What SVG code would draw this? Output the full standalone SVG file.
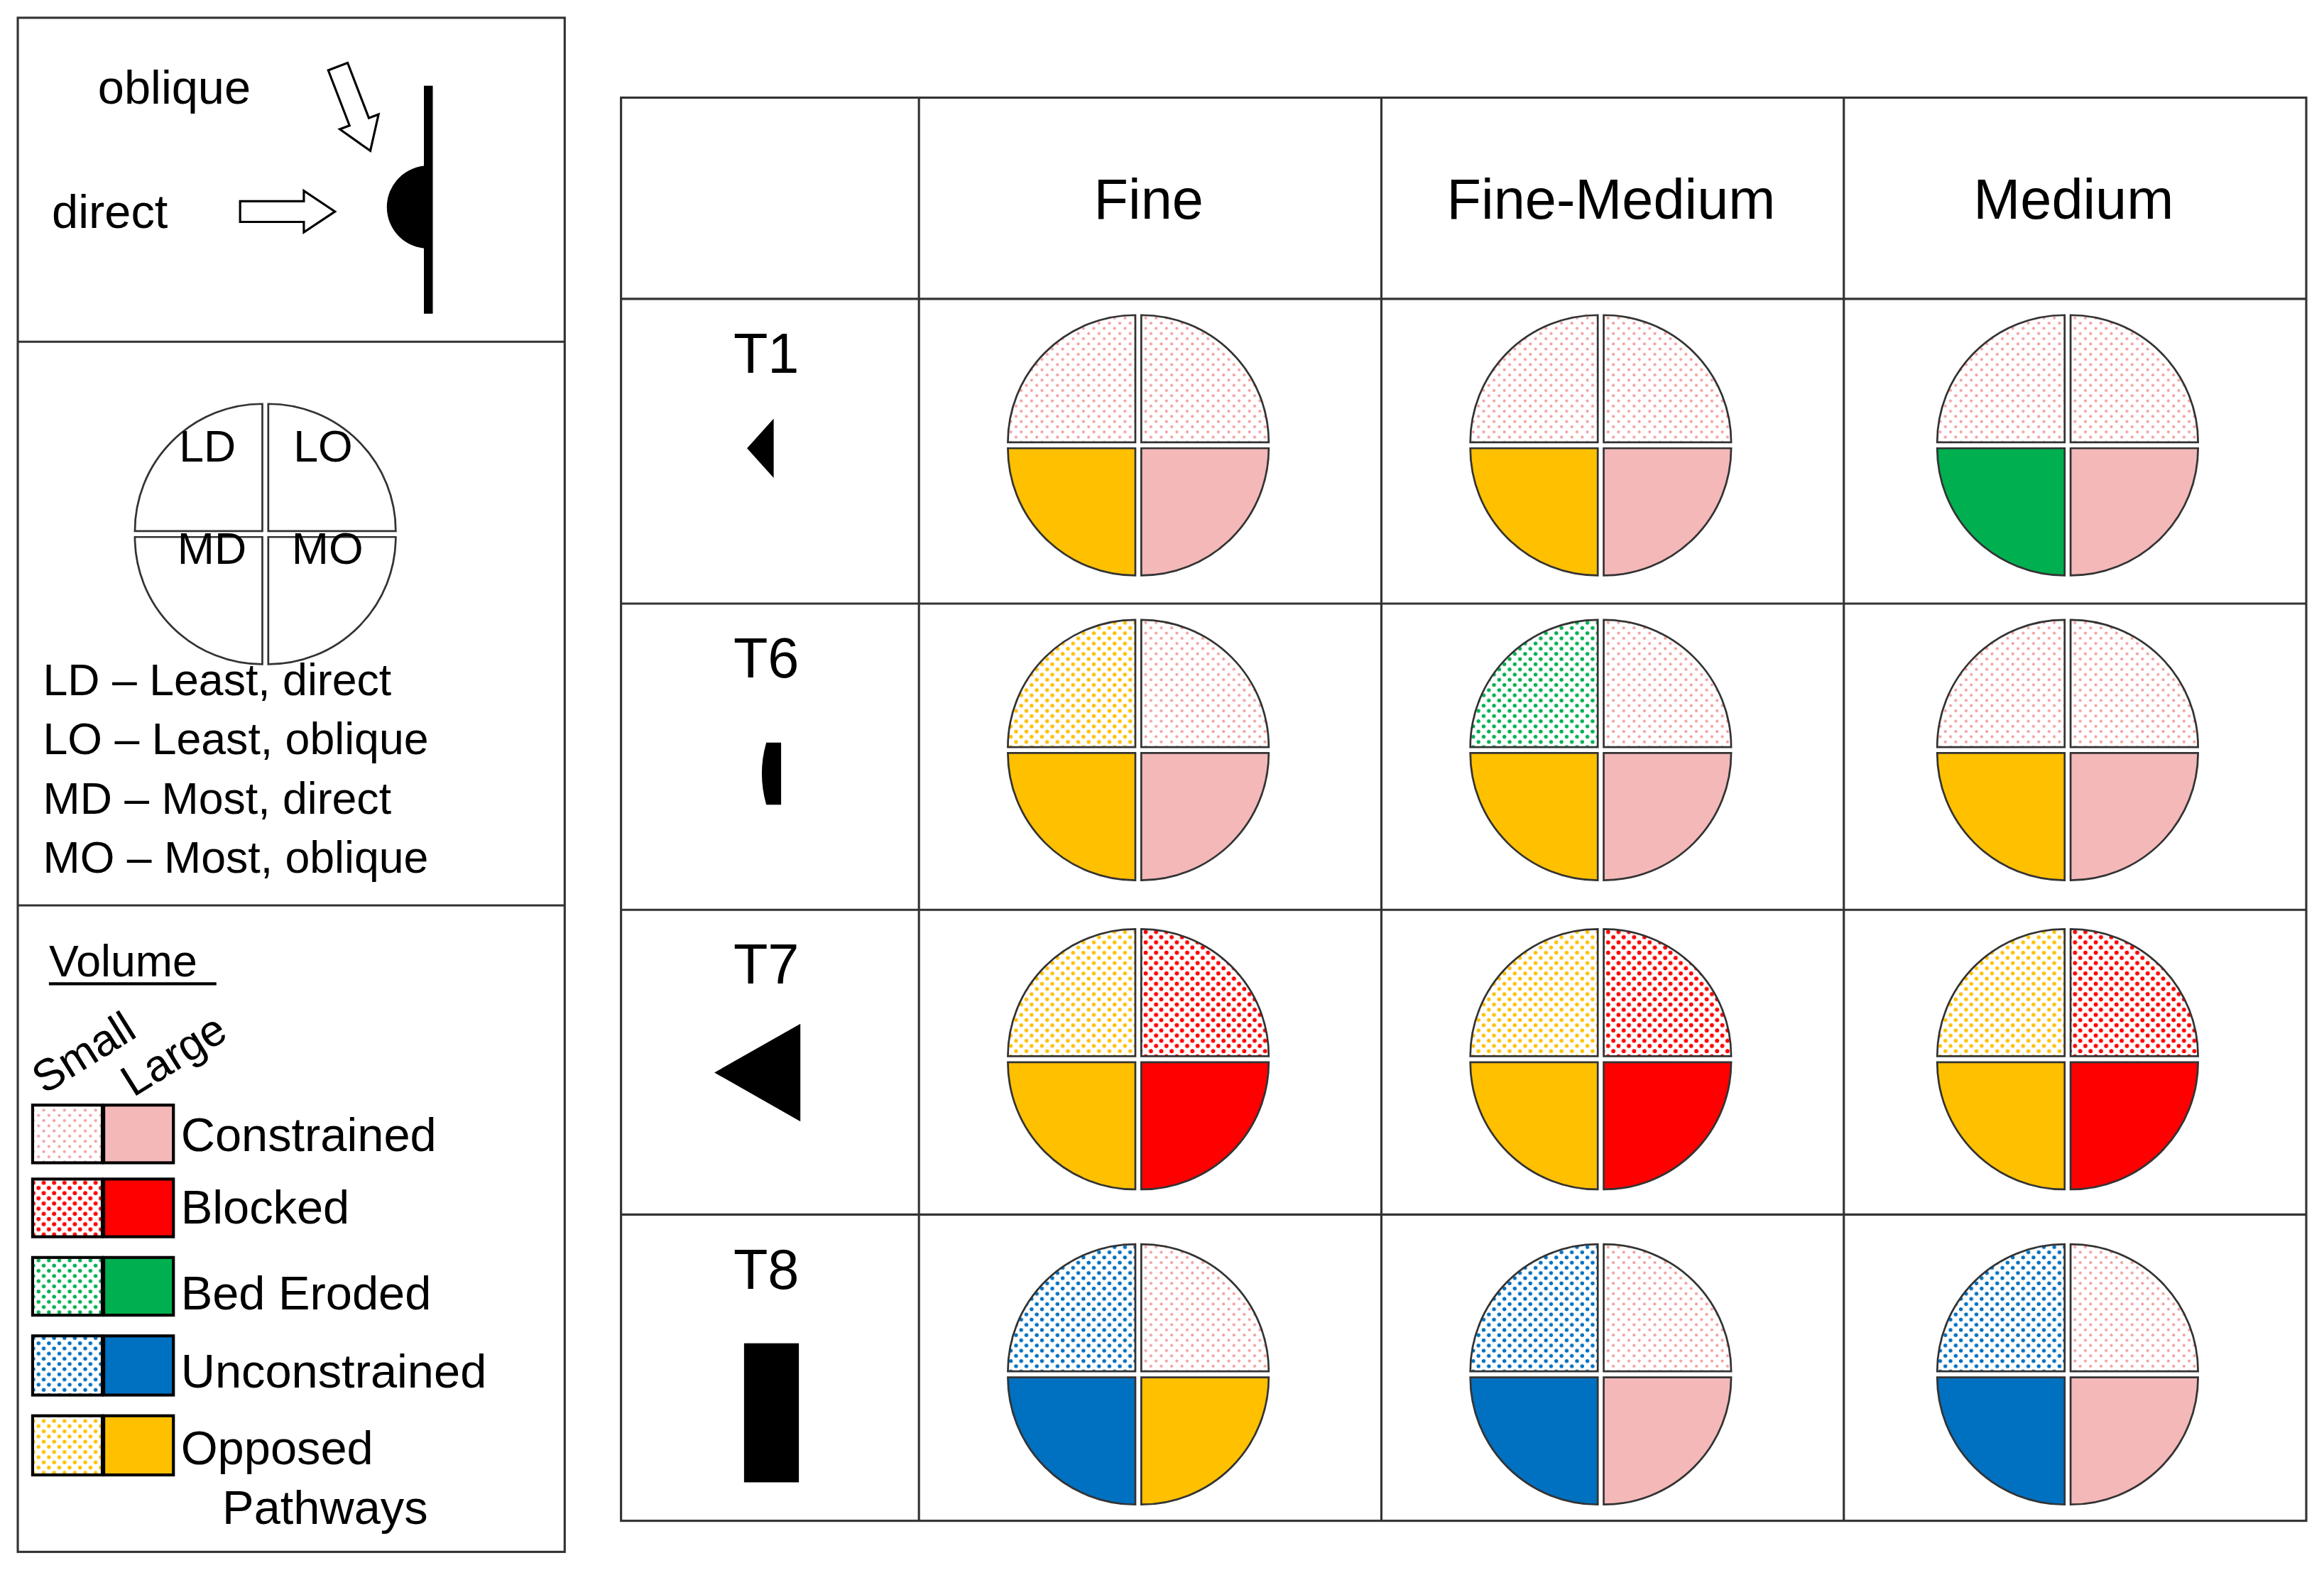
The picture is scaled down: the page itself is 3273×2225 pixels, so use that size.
<svg xmlns="http://www.w3.org/2000/svg" xmlns:xlink="http://www.w3.org/1999/xlink" width="3273" height="2225" viewBox="0 0 3273 2225">
<style>
text{font-family:"Liberation Sans",Arial,sans-serif;fill:#000}
.q{stroke:#333;stroke-width:1.3}
.ln{stroke:#333;stroke-width:1.5;fill:none}
</style>
<defs>
<pattern id="pc" width="7" height="7" patternUnits="userSpaceOnUse"><rect width="7" height="7" fill="#fff"/><circle cx="1.5" cy="1.5" r="1" fill="#f4a0a0"/><circle cx="5" cy="5" r="1" fill="#f4a0a0"/></pattern>
<pattern id="pr" width="7" height="7" patternUnits="userSpaceOnUse"><rect width="7" height="7" fill="#fff"/><circle cx="1.5" cy="1.5" r="1.4" fill="#f00"/><circle cx="5" cy="5" r="1.4" fill="#f00"/></pattern>
<pattern id="pg" width="7" height="7" patternUnits="userSpaceOnUse"><rect width="7" height="7" fill="#fff"/><circle cx="1.5" cy="1.5" r="1.3" fill="#00b050"/><circle cx="5" cy="5" r="1.3" fill="#00b050"/></pattern>
<pattern id="pb" width="7" height="7" patternUnits="userSpaceOnUse"><rect width="7" height="7" fill="#fff"/><circle cx="1.5" cy="1.5" r="1.3" fill="#0070c0"/><circle cx="5" cy="5" r="1.3" fill="#0070c0"/></pattern>
<pattern id="py" width="7" height="7" patternUnits="userSpaceOnUse"><rect width="7" height="7" fill="#fff"/><circle cx="1.5" cy="1.5" r="1.3" fill="#ffc000"/><circle cx="5" cy="5" r="1.3" fill="#ffc000"/></pattern>
<path id="qTL" class="q" d="M-2,-2 L-2,-88 A86,86 0 0 0 -88,-2 Z"/>
<path id="qTR" class="q" d="M2,-2 L2,-88 A86,86 0 0 1 88,-2 Z"/>
<path id="qBL" class="q" d="M-2,2 L-2,88 A86,86 0 0 1 -88,2 Z"/>
<path id="qBR" class="q" d="M2,2 L2,88 A86,86 0 0 0 88,2 Z"/>
</defs>
<rect width="3273" height="2225" fill="#fff"/>
<g transform="scale(2.0874,2.0833)">
<g id="legend">
<rect x="12" y="12" width="369" height="1037" class="ln"/>
<line x1="12" y1="231" x2="381" y2="231" class="ln"/>
<line x1="12" y1="612" x2="381" y2="612" class="ln"/>
<text x="66" y="70" font-size="32">oblique</text>
<text x="35" y="154" font-size="32">direct</text>
<line x1="289" y1="58" x2="289" y2="212" stroke="#000" stroke-width="6"/>
<path d="M289,112 A28,28 0 0 0 289,168 Z" fill="#000"/>
<path d="M162,136 L205,136 L205,129 L226,143 L205,157 L205,150 L162,150 Z" fill="#fff" stroke="#000" stroke-width="1.5"/>
<path d="M0,-7 L40,-7 L40,-14 L61,0 L40,14 L40,7 L0,7 Z" fill="#fff" stroke="#000" stroke-width="1.5" transform="translate(228,45) rotate(69)"/>
<g transform="translate(179,361)" fill="#fff">
<use xlink:href="#qTL"/><use xlink:href="#qTR"/><use xlink:href="#qBL"/><use xlink:href="#qBR"/>
</g>
<text x="140" y="312" font-size="30" text-anchor="middle">LD</text>
<text x="218" y="312" font-size="30" text-anchor="middle">LO</text>
<text x="143" y="381" font-size="30" text-anchor="middle">MD</text>
<text x="221" y="381" font-size="30" text-anchor="middle">MO</text>
<text x="29" y="470" font-size="30">LD – Least, direct</text>
<text x="29" y="510" font-size="30">LO – Least, oblique</text>
<text x="29" y="550" font-size="30">MD – Most, direct</text>
<text x="29" y="590" font-size="30">MO – Most, oblique</text>
<text x="33" y="660" font-size="30">Volume</text>
<line x1="33" y1="665" x2="146" y2="665" stroke="#000" stroke-width="2"/>
<text x="30" y="740" font-size="30" transform="rotate(-32 30 740)">Small</text>
<text x="90" y="742" font-size="30" transform="rotate(-32 90 742)">Large</text>
<g stroke="#000" stroke-width="2">
<rect x="22" y="747" width="47" height="39" fill="url(#pc)"/><rect x="70" y="747" width="47" height="39" fill="#f4b8b8"/>
<rect x="22" y="797" width="47" height="39" fill="url(#pr)"/><rect x="70" y="797" width="47" height="39" fill="#f00"/>
<rect x="22" y="850" width="47" height="39" fill="url(#pg)"/><rect x="70" y="850" width="47" height="39" fill="#00b050"/>
<rect x="22" y="903" width="47" height="40" fill="url(#pb)"/><rect x="70" y="903" width="47" height="40" fill="#0070c0"/>
<rect x="22" y="957" width="47" height="40" fill="url(#py)"/><rect x="70" y="957" width="47" height="40" fill="#ffc000"/>
</g>
<text x="122" y="778" font-size="32">Constrained</text>
<text x="122" y="827" font-size="32">Blocked</text>
<text x="122" y="885" font-size="32">Bed Eroded</text>
<text x="122" y="938" font-size="32">Unconstrained</text>
<text x="122" y="990" font-size="32">Opposed</text>
<text x="150" y="1030" font-size="32">Pathways</text>
</g>
<g id="grid">
<rect x="419" y="66" width="1137" height="962" class="ln"/>
<line x1="620" y1="66" x2="620" y2="1028" class="ln"/>
<line x1="932" y1="66" x2="932" y2="1028" class="ln"/>
<line x1="1244" y1="66" x2="1244" y2="1028" class="ln"/>
<line x1="419" y1="202" x2="1556" y2="202" class="ln"/>
<line x1="419" y1="408" x2="1556" y2="408" class="ln"/>
<line x1="419" y1="615" x2="1556" y2="615" class="ln"/>
<line x1="419" y1="821" x2="1556" y2="821" class="ln"/>
</g>
<g id="headers" font-size="38">
<text x="775" y="148" font-size="38" text-anchor="middle">Fine</text>
<text x="1087" y="148" font-size="38" text-anchor="middle">Fine-Medium</text>
<text x="1399" y="148" font-size="38" text-anchor="middle">Medium</text>
</g>
<g id="rows">
<text x="517" y="252" font-size="38" text-anchor="middle">T1</text>
<path d="M522,283 L504,303 L522,323 Z" fill="#000"/>
<text x="517" y="458" font-size="38" text-anchor="middle">T6</text>
<path d="M527,502 L517,502 Q511,523 517,544 L527,544 Z" fill="#000"/>
<text x="517" y="665" font-size="38" text-anchor="middle">T7</text>
<path d="M540,692 L482,725 L540,758 Z" fill="#000"/>
<text x="517" y="871" font-size="38" text-anchor="middle">T8</text>
<rect x="502" y="908" width="37" height="94" fill="#000"/>
</g>
<g id="T1-Fine" transform="translate(768,301)"><use xlink:href="#qTL" fill="url(#pc)"/><use xlink:href="#qTR" fill="url(#pc)"/><use xlink:href="#qBL" fill="#ffc000"/><use xlink:href="#qBR" fill="#f4b8b8"/></g>
<g id="T1-FM" transform="translate(1080,301)"><use xlink:href="#qTL" fill="url(#pc)"/><use xlink:href="#qTR" fill="url(#pc)"/><use xlink:href="#qBL" fill="#ffc000"/><use xlink:href="#qBR" fill="#f4b8b8"/></g>
<g id="T1-M" transform="translate(1395,301)"><use xlink:href="#qTL" fill="url(#pc)"/><use xlink:href="#qTR" fill="url(#pc)"/><use xlink:href="#qBL" fill="#00b050"/><use xlink:href="#qBR" fill="#f4b8b8"/></g>
<g id="T6-Fine" transform="translate(768,507)"><use xlink:href="#qTL" fill="url(#py)"/><use xlink:href="#qTR" fill="url(#pc)"/><use xlink:href="#qBL" fill="#ffc000"/><use xlink:href="#qBR" fill="#f4b8b8"/></g>
<g id="T6-FM" transform="translate(1080,507)"><use xlink:href="#qTL" fill="url(#pg)"/><use xlink:href="#qTR" fill="url(#pc)"/><use xlink:href="#qBL" fill="#ffc000"/><use xlink:href="#qBR" fill="#f4b8b8"/></g>
<g id="T6-M" transform="translate(1395,507)"><use xlink:href="#qTL" fill="url(#pc)"/><use xlink:href="#qTR" fill="url(#pc)"/><use xlink:href="#qBL" fill="#ffc000"/><use xlink:href="#qBR" fill="#f4b8b8"/></g>
<g id="T7-Fine" transform="translate(768,716)"><use xlink:href="#qTL" fill="url(#py)"/><use xlink:href="#qTR" fill="url(#pr)"/><use xlink:href="#qBL" fill="#ffc000"/><use xlink:href="#qBR" fill="#f00"/></g>
<g id="T7-FM" transform="translate(1080,716)"><use xlink:href="#qTL" fill="url(#py)"/><use xlink:href="#qTR" fill="url(#pr)"/><use xlink:href="#qBL" fill="#ffc000"/><use xlink:href="#qBR" fill="#f00"/></g>
<g id="T7-M" transform="translate(1395,716)"><use xlink:href="#qTL" fill="url(#py)"/><use xlink:href="#qTR" fill="url(#pr)"/><use xlink:href="#qBL" fill="#ffc000"/><use xlink:href="#qBR" fill="#f00"/></g>
<g id="T8-Fine" transform="translate(768,929)"><use xlink:href="#qTL" fill="url(#pb)"/><use xlink:href="#qTR" fill="url(#pc)"/><use xlink:href="#qBL" fill="#0070c0"/><use xlink:href="#qBR" fill="#ffc000"/></g>
<g id="T8-FM" transform="translate(1080,929)"><use xlink:href="#qTL" fill="url(#pb)"/><use xlink:href="#qTR" fill="url(#pc)"/><use xlink:href="#qBL" fill="#0070c0"/><use xlink:href="#qBR" fill="#f4b8b8"/></g>
<g id="T8-M" transform="translate(1395,929)"><use xlink:href="#qTL" fill="url(#pb)"/><use xlink:href="#qTR" fill="url(#pc)"/><use xlink:href="#qBL" fill="#0070c0"/><use xlink:href="#qBR" fill="#f4b8b8"/></g>
</g>
</svg>
